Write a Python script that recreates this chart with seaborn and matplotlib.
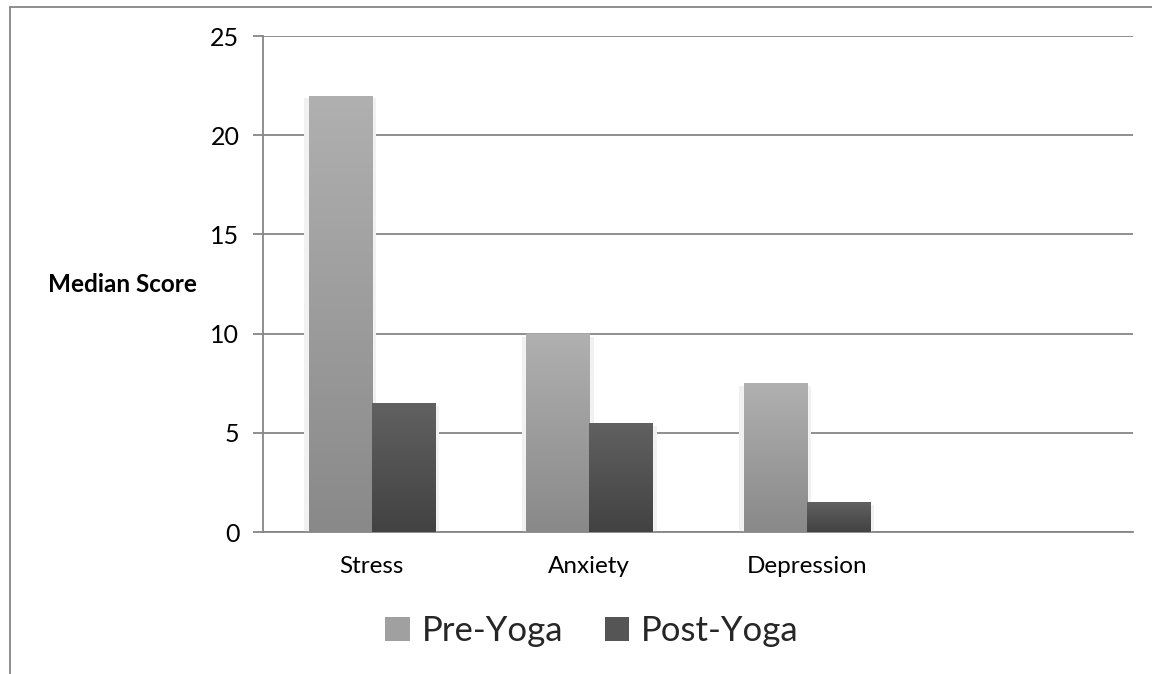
import numpy as np
import pandas as pd
import seaborn as sns
import matplotlib.pyplot as plt
from matplotlib.lines import Line2D
from matplotlib.patches import Patch, Rectangle
from matplotlib.colors import LinearSegmentedColormap

# Data
categories = ["Stress", "Anxiety", "Depression"]
pre_yoga = [22, 10, 7.5]
post_yoga = [6.5, 5.5, 1.5]
series = ["Pre-Yoga", "Post-Yoga"]
y_ticks = [0, 5, 10, 15, 20, 25]

df = pd.DataFrame({
    "Category": categories * 2,
    "Score": pre_yoga + post_yoga,
    "Group": [series[0]] * len(categories) + [series[1]] * len(categories),
})

sns.set_theme(style="white")
plt.rcParams["font.family"] = ["Lato", "DejaVu Sans"]

grid_col = "#868686"
# top colour, bottom colour for each series
grads = {
    "Pre-Yoga": ("#b0b0b0", "#898989"),
    "Post-Yoga": ("#616161", "#424242"),
}

fig = plt.figure(figsize=(11.52, 6.74), dpi=100)
ax = fig.add_axes([263 / 1152, 1 - 532 / 674, 870 / 1152, 496 / 674])

sns.barplot(data=df, x="Category", y="Score", hue="Group", order=categories,
            hue_order=series, palette=[grads[s][1] for s in series],
            width=0.58, gap=0, ax=ax, legend=False, zorder=3)

ax.set_xlim(-0.5, 3.5)
ax.set_ylim(0, 25)

# gradient fill + soft glow for each bar
bars = list(ax.patches)
for i, bar in enumerate(bars):
    s = series[i // len(categories)]
    top, bot = grads[s]
    cmap = LinearSegmentedColormap.from_list(s, [bot, top])
    x0, y0 = bar.get_x(), bar.get_y()
    w, h = bar.get_width(), bar.get_height()
    if h <= 0:
        continue
    glow = Rectangle((x0 - 0.02, y0), w + 0.04, h - 0.15, facecolor="#f1f1f1",
                     edgecolor="none", zorder=2.5)
    ax.add_patch(glow)
    grad = np.linspace(0, 1, 256).reshape(-1, 1)
    im = ax.imshow(grad, cmap=cmap, aspect="auto", origin="lower",
                   extent=[x0, x0 + w, y0, y0 + h], zorder=3.5)
    im.set_clip_path(bar)
    bar.set_facecolor("none")

ax.set_xlim(-0.5, 3.5)
ax.set_ylim(0, 25)
ax.set_aspect("auto")

# axes styling
ax.set_yticks(y_ticks)
ax.set_yticklabels([str(t) for t in y_ticks], fontsize=18, color="black")
ax.set_xticks(range(len(categories)))
ax.set_xticklabels(categories, fontsize=17.5, color="black")
ax.set_xticks(np.arange(-0.5, 4, 1), minor=True)
ax.tick_params(axis="x", which="major", length=0, pad=17)
ax.tick_params(axis="x", which="minor", length=7, width=1.3, color=grid_col, direction="out")
ax.tick_params(axis="y", length=7, width=1.3, color=grid_col, direction="out", left=True, pad=10)
ax.yaxis.grid(True, color=grid_col, linewidth=1.3, zorder=1)
ax.set_axisbelow(True)
for side in ["top", "right"]:
    ax.spines[side].set_visible(False)
for side in ["left", "bottom"]:
    ax.spines[side].set_color(grid_col)
    ax.spines[side].set_linewidth(1.3)
ax.set_xlabel("")
ax.set_ylabel("")
ax.text(-0.162, 0.498, "Median Score", transform=ax.transAxes, ha="center",
        va="center", fontsize=17.5, fontweight="bold", color="black")

# legend at the bottom
handles = [Patch(facecolor="#a0a0a0", edgecolor="none"),
           Patch(facecolor="#555555", edgecolor="none")]
fig.legend(handles, series, loc="center", bbox_to_anchor=(0.514, 1 - 631 / 674), ncol=2,
           frameon=False, fontsize=25, handlelength=0.7, handleheight=0.7,
           handletextpad=0.35, columnspacing=1.2)

# outer chart frame (left and top edges)
fig.add_artist(Line2D([10 / 1152, 10 / 1152], [0, 1 - 7 / 674], color=grid_col, linewidth=1.3))
fig.add_artist(Line2D([10 / 1152, 1], [1 - 7 / 674, 1 - 7 / 674], color=grid_col, linewidth=1.3))

fig.savefig("out.png", dpi=100, facecolor="white")
